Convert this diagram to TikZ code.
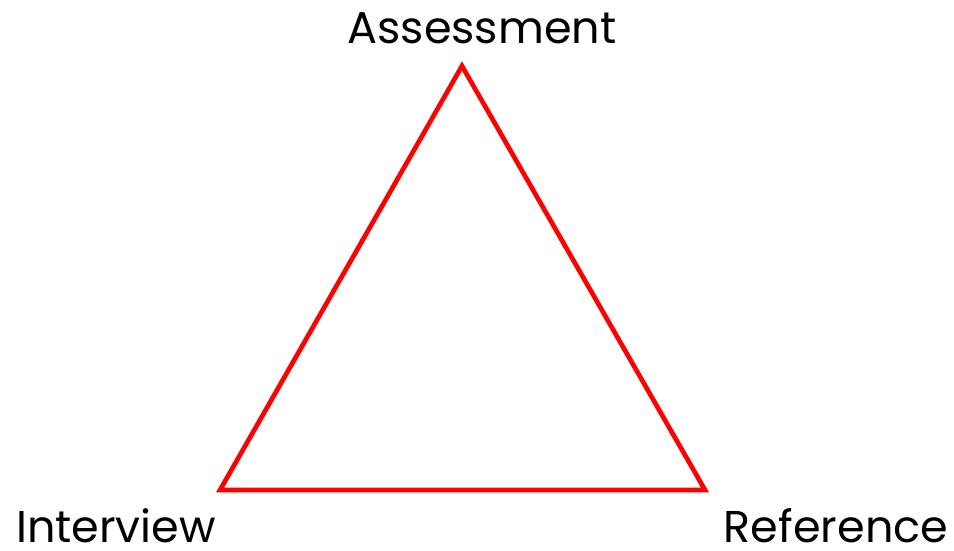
\documentclass[tikz,border=0pt]{standalone}
\usepackage{xcolor}
\usepackage{fontspec}
\setmainfont{Poppins}
\definecolor{tribred}{HTML}{FF0000}

\begin{document}
\begin{tikzpicture}[x=0.03cm,y=-0.03cm,
  label text/.style={font=\fontsize{38}{46}\selectfont,inner sep=0pt,text depth=0pt,anchor=base},
  edge line/.style={tribred,line width=4pt,line join=miter}]
  \useasboundingbox (0,0) rectangle (954,550);
  \coordinate (top) at (462,66);
  \coordinate (left) at (220,490);
  \coordinate (right) at (705,490);
  \draw[edge line] (top) -- (left) -- (right) -- cycle;
  \node[label text] (assess) at (482,43) {Assessment};
  \node[label text] (interv) at (116,542) {Interview};
  \node[label text] (refer) at (836,542) {Reference};
\end{tikzpicture}
\end{document}
